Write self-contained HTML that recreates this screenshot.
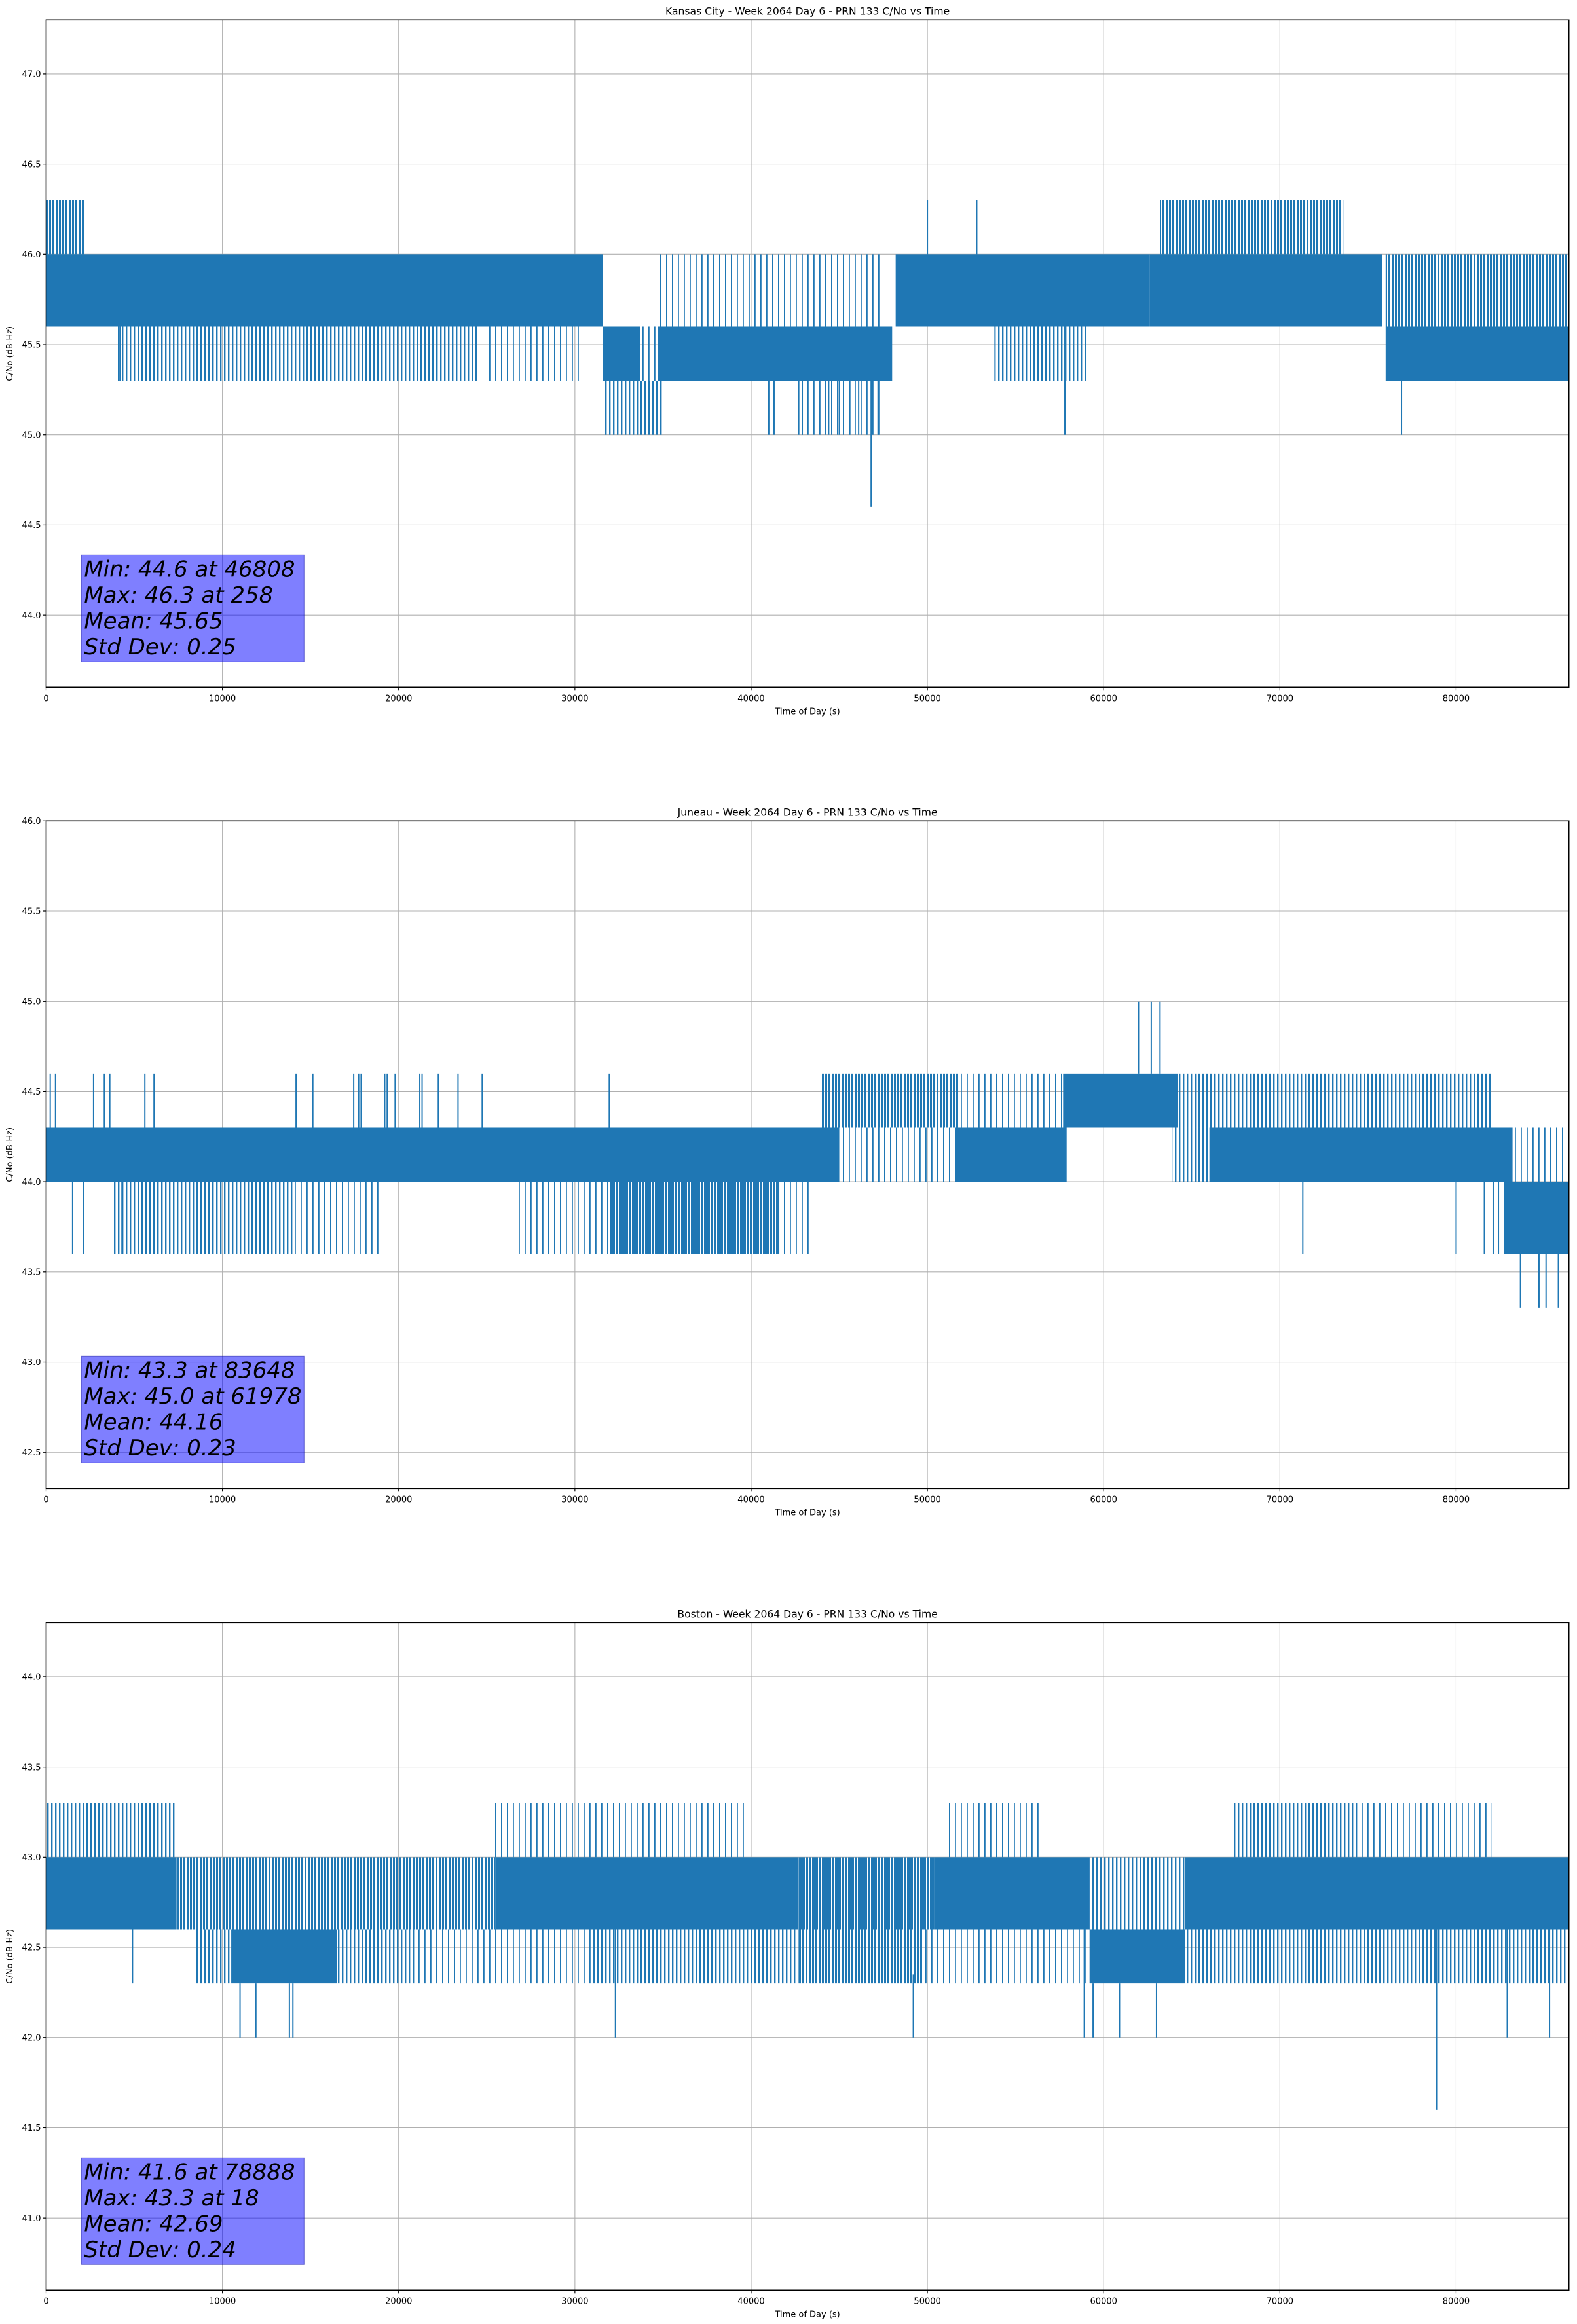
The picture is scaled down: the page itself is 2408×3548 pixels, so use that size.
<!DOCTYPE html>
<html><head><meta charset="utf-8"><title>PRN 133 C/No vs Time</title>
<style>
html,body{margin:0;padding:0;background:#fff;}
svg{display:block;font-family:"DejaVu Sans","Liberation Sans",sans-serif;}
</style></head>
<body>
<svg id="fig" width="2408" height="3548" viewBox="0 0 2408 3548" xmlns="http://www.w3.org/2000/svg">
<defs>
<pattern id="h20" patternUnits="userSpaceOnUse" width="9" height="10"><rect x="0" y="0" width="1.8" height="10" fill="#1f77b4"/></pattern>
<pattern id="h40" patternUnits="userSpaceOnUse" width="6" height="10"><rect x="0" y="0" width="2.4" height="10" fill="#1f77b4"/></pattern>
<pattern id="h60" patternUnits="userSpaceOnUse" width="5" height="10"><rect x="0" y="0" width="3" height="10" fill="#1f77b4"/></pattern>
<pattern id="h80" patternUnits="userSpaceOnUse" width="5" height="10"><rect x="0" y="0" width="4" height="10" fill="#1f77b4"/></pattern>
</defs>
</svg>
<script>
// ---------- Shared axis data ----------
const xTicks = [0, 10000, 20000, 30000, 40000, 50000, 60000, 70000, 80000];
const xTickLabels = ["0","10000","20000","30000","40000","50000","60000","70000","80000"];
const xMax = 86400;

// ---------- Kansas City ----------
const kcTitle = "Kansas City - Week 2064 Day 6 - PRN 133 C/No vs Time";
const kcYRange = [43.6, 47.3];
const kcYTicks = [44.0, 44.5, 45.0, 45.5, 46.0, 46.5, 47.0];
const kcBandStart = [0, 31600, 34700, 48200, 62600, 76000];
const kcBandEnd   = [31600, 33700, 48000, 62600, 75800, 86400];
const kcBandLo    = [45.6, 45.3, 45.3, 45.6, 45.6, 45.3];
const kcBandHi    = [46.0, 45.6, 45.6, 46.0, 46.0, 45.6];
const kcHatchStart = [0, 4000, 25000, 31600, 33700, 53800, 63200, 76000, 42700, 34700];
const kcHatchEnd   = [2200, 24500, 30500, 35000, 34700, 59000, 73600, 86400, 47500, 47500];
const kcHatchLo    = [46.0, 45.3, 45.3, 45.0, 45.3, 45.3, 46.0, 45.6, 45.0, 45.6];
const kcHatchHi    = [46.3, 45.6, 45.6, 45.3, 45.6, 45.6, 46.3, 46.0, 45.3, 46.0];
const kcHatchDensity = [60, 40, 20, 40, 20, 40, 60, 60, 20, 20];
const kcSpikeT = [46808, 50000, 52800, 57800, 76900, 4200, 41000, 41300, 42700, 42900, 44400, 45000, 45600, 46100, 47200];
const kcSpikeV = [44.6, 46.3, 46.3, 45.0, 45.0, 45.3, 45.0, 45.0, 45.0, 45.0, 45.0, 45.0, 45.0, 45.0, 45.0];
const kcStats = ["Min: 44.6 at 46808", "Max: 46.3 at 258", "Mean: 45.65", "Std Dev: 0.25"];

// ---------- Juneau ----------
const junTitle = "Juneau - Week 2064 Day 6 - PRN 133 C/No vs Time";
const junYRange = [42.3, 46.0];
const junYTicks = [42.5, 43.0, 43.5, 44.0, 44.5, 45.0, 45.5, 46.0];
const junBandStart = [0, 51600, 57700, 66000, 82700];
const junBandEnd   = [45000, 57900, 64200, 83200, 86400];
const junBandLo    = [44.0, 44.0, 44.3, 44.0, 43.6];
const junBandHi    = [44.3, 44.3, 44.6, 44.3, 44.0];
const junHatchStart = [45000, 44000, 51800, 63900, 64300, 82700, 3800, 14100, 26700, 32000, 41600];
const junHatchEnd   = [51800, 51800, 57700, 66000, 82100, 86400, 14100, 19000, 32000, 41600, 43500];
const junHatchLo    = [44.0, 44.3, 44.3, 44.0, 44.3, 44.0, 43.6, 43.6, 43.6, 43.6, 43.6];
const junHatchHi    = [44.3, 44.6, 44.6, 44.3, 44.6, 44.3, 44.0, 44.0, 44.0, 44.0, 44.0];
const junHatchDensity = [20, 60, 20, 40, 40, 20, 40, 20, 20, 80, 20];
const junSpikeT = [230, 530, 2690, 3300, 3610, 5600, 6120, 14180, 15130, 17450, 17730, 17870, 19210, 19350, 19800, 21200, 21330, 22250, 23370, 24740, 31950, 61978, 62700, 63200, 83648, 84700, 85100, 85800, 71300, 80000, 81600, 82100, 82400, 1500, 2100, 4300];
const junSpikeV = [44.6, 44.6, 44.6, 44.6, 44.6, 44.6, 44.6, 44.6, 44.6, 44.6, 44.6, 44.6, 44.6, 44.6, 44.6, 44.6, 44.6, 44.6, 44.6, 44.6, 44.6, 45.0, 45.0, 45.0, 43.3, 43.3, 43.3, 43.3, 43.6, 43.6, 43.6, 43.6, 43.6, 43.6, 43.6, 43.6];
const junStats = ["Min: 43.3 at 83648", "Max: 45.0 at 61978", "Mean: 44.16", "Std Dev: 0.23"];

// ---------- Boston ----------
const bosTitle = "Boston - Week 2064 Day 6 - PRN 133 C/No vs Time";
const bosYRange = [40.6, 44.3];
const bosYTicks = [41.0, 41.5, 42.0, 42.5, 43.0, 43.5, 44.0];
const bosBandStart = [0, 25500, 50400, 64600, 10500, 59200];
const bosBandEnd   = [7400, 42700, 59200, 86400, 16500, 64600];
const bosBandLo    = [42.6, 42.6, 42.6, 42.6, 42.3, 42.3];
const bosBandHi    = [43.0, 43.0, 43.0, 43.0, 42.6, 42.6];
const bosHatchStart = [7400, 16400, 42700, 59200, 8500, 16500, 21000, 25000, 31000, 42700, 49700, 64600, 79500, 0, 25300, 51000, 67400, 74500];
const bosHatchEnd   = [16400, 25500, 50400, 64600, 10500, 21000, 25000, 31000, 42700, 49700, 59200, 79500, 86400, 7300, 39700, 56500, 74500, 82000];
const bosHatchLo    = [42.6, 42.6, 42.6, 42.6, 42.3, 42.3, 42.3, 42.3, 42.3, 42.3, 42.3, 42.3, 42.3, 43.0, 43.0, 43.0, 43.0, 43.0];
const bosHatchHi    = [43.0, 43.0, 43.0, 43.0, 42.6, 42.6, 42.6, 42.6, 42.6, 42.6, 42.6, 42.6, 42.6, 43.3, 43.3, 43.3, 43.3, 43.3];
const bosHatchDensity = [60, 60, 80, 40, 40, 40, 20, 20, 40, 60, 20, 40, 40, 40, 20, 20, 40, 20];
const bosSpikeT = [78888, 11000, 11900, 13800, 14000, 32300, 49200, 58900, 59400, 60900, 63000, 82900, 85300, 4900];
const bosSpikeV = [41.6, 42.0, 42.0, 42.0, 42.0, 42.0, 42.0, 42.0, 42.0, 42.0, 42.0, 42.0, 42.0, 42.3];
const bosStats = ["Min: 41.6 at 78888", "Max: 43.3 at 18", "Mean: 42.69", "Std Dev: 0.24"];

// ---------- Rendering ----------
const NS = "http://www.w3.org/2000/svg";
const svg = document.getElementById("fig");
const PL = 70.5, PR = 2395.7, PH = 1019;
function mk(tag, attrs, parent) {
  const e = document.createElementNS(NS, tag);
  for (const k in attrs) e.setAttribute(k, attrs[k]);
  parent.appendChild(e);
  return e;
}
function drawChart(key, top, title, yRange, yTicks, bS, bE, bL, bH, hS, hE, hL, hH, hD, sT, sV, stats) {
  const g = mk("g", {}, svg);
  
  
  const bot = top + PH;
  const xs = t => PL + (t / xMax) * (PR - PL);
  const ys = v => top + (yRange[1] - v) / (yRange[1] - yRange[0]) * PH;

  const grid = mk("g", {}, g);
  
  
  xTicks.forEach(t => mk("line", {x1: xs(t), x2: xs(t), y1: top, y2: bot, stroke: "#b0b0b0", "stroke-width": 1.1}, grid));
  yTicks.forEach(v => mk("line", {x1: PL, x2: PR, y1: ys(v), y2: ys(v), stroke: "#b0b0b0", "stroke-width": 1.1}, grid));

  const data = mk("g", {}, g);
  
  
  for (let i = 0; i < hS.length; i++) {
    const r = mk("rect", {x: xs(hS[i]), y: ys(hH[i]), width: Math.max(1, xs(hE[i]) - xs(hS[i])), height: ys(hL[i]) - ys(hH[i]), fill: "url(#h" + hD[i] + ")"}, data);
    
    
  }
  for (let i = 0; i < bS.length; i++) {
    const r = mk("rect", {x: xs(bS[i]), y: ys(bH[i]), width: Math.max(1, xs(bE[i]) - xs(bS[i])), height: ys(bL[i]) - ys(bH[i]), fill: "#1f77b4"}, data);
    
    
  }
  for (let i = 0; i < sT.length; i++) {
    let base = null;
    for (let j = 0; j < bS.length; j++) {
      if (sT[i] >= bS[j] && sT[i] <= bE[j]) base = sV[i] < bL[j] ? bL[j] : bH[j];
    }
    if (base === null) base = sV[i] < (yRange[0] + yRange[1]) / 2 ? sV[i] + 0.35 : sV[i] - 0.35;
    const l = mk("line", {x1: xs(sT[i]), x2: xs(sT[i]), y1: ys(base), y2: ys(sV[i]), stroke: "#1f77b4", "stroke-width": 2}, data);
    
    
  }

  const box = mk("g", {}, g);
  
  
  const bx = xs(2000), by = top + 817;
  mk("rect", {x: bx, y: by, width: 340, height: 163, fill: "rgba(0,0,255,0.5)", stroke: "rgba(0,0,160,0.5)", "stroke-width": 1}, box);
  stats.forEach((s, i) => {
    const t = mk("text", {x: bx + 4, y: by + 33 + i * 39.5, "font-size": 34, "font-style": "italic", fill: "#000"}, box);
    t.textContent = s;
    
    
  });

  const frame = mk("rect", {x: PL, y: top, width: PR - PL, height: PH, fill: "none", stroke: "#000", "stroke-width": 1.6}, g);
  
  

  const xa = mk("g", {}, g);
  
  
  xTicks.forEach((t, i) => {
    mk("line", {x1: xs(t), x2: xs(t), y1: bot, y2: bot + 5, stroke: "#000", "stroke-width": 1.2}, xa);
    const tx = mk("text", {x: xs(t), y: bot + 21, "font-size": 13, "text-anchor": "middle", fill: "#000"}, xa);
    tx.textContent = xTickLabels[i];
    
    
  });
  const xl = mk("text", {x: (PL + PR) / 2, y: bot + 41, "font-size": 13, "text-anchor": "middle", fill: "#000"}, g);
  xl.textContent = "Time of Day (s)";
  
  

  const ya = mk("g", {}, g);
  
  
  yTicks.forEach(v => {
    mk("line", {x1: PL - 5, x2: PL, y1: ys(v), y2: ys(v), stroke: "#000", "stroke-width": 1.2}, ya);
    const tx = mk("text", {x: PL - 8, y: ys(v) + 4.7, "font-size": 13, "text-anchor": "end", fill: "#000"}, ya);
    tx.textContent = v.toFixed(1);
    
    
  });
  const yl = mk("text", {x: 0, y: 0, "font-size": 13, "text-anchor": "middle", fill: "#000", transform: "translate(19," + (top + PH / 2) + ") rotate(-90)"}, g);
  yl.textContent = "C/No (dB-Hz)";
  
  

  const tt = mk("text", {x: (PL + PR) / 2, y: top - 8, "font-size": 15.6, "text-anchor": "middle", fill: "#000"}, g);
  tt.textContent = title;
  
  
}
drawChart("kansas-city", 30.3, kcTitle, kcYRange, kcYTicks, kcBandStart, kcBandEnd, kcBandLo, kcBandHi, kcHatchStart, kcHatchEnd, kcHatchLo, kcHatchHi, kcHatchDensity, kcSpikeT, kcSpikeV, kcStats);
drawChart("juneau", 1253.3, junTitle, junYRange, junYTicks, junBandStart, junBandEnd, junBandLo, junBandHi, junHatchStart, junHatchEnd, junHatchLo, junHatchHi, junHatchDensity, junSpikeT, junSpikeV, junStats);
drawChart("boston", 2477.3, bosTitle, bosYRange, bosYTicks, bosBandStart, bosBandEnd, bosBandLo, bosBandHi, bosHatchStart, bosHatchEnd, bosHatchLo, bosHatchHi, bosHatchDensity, bosSpikeT, bosSpikeV, bosStats);
</script>
</body></html>
